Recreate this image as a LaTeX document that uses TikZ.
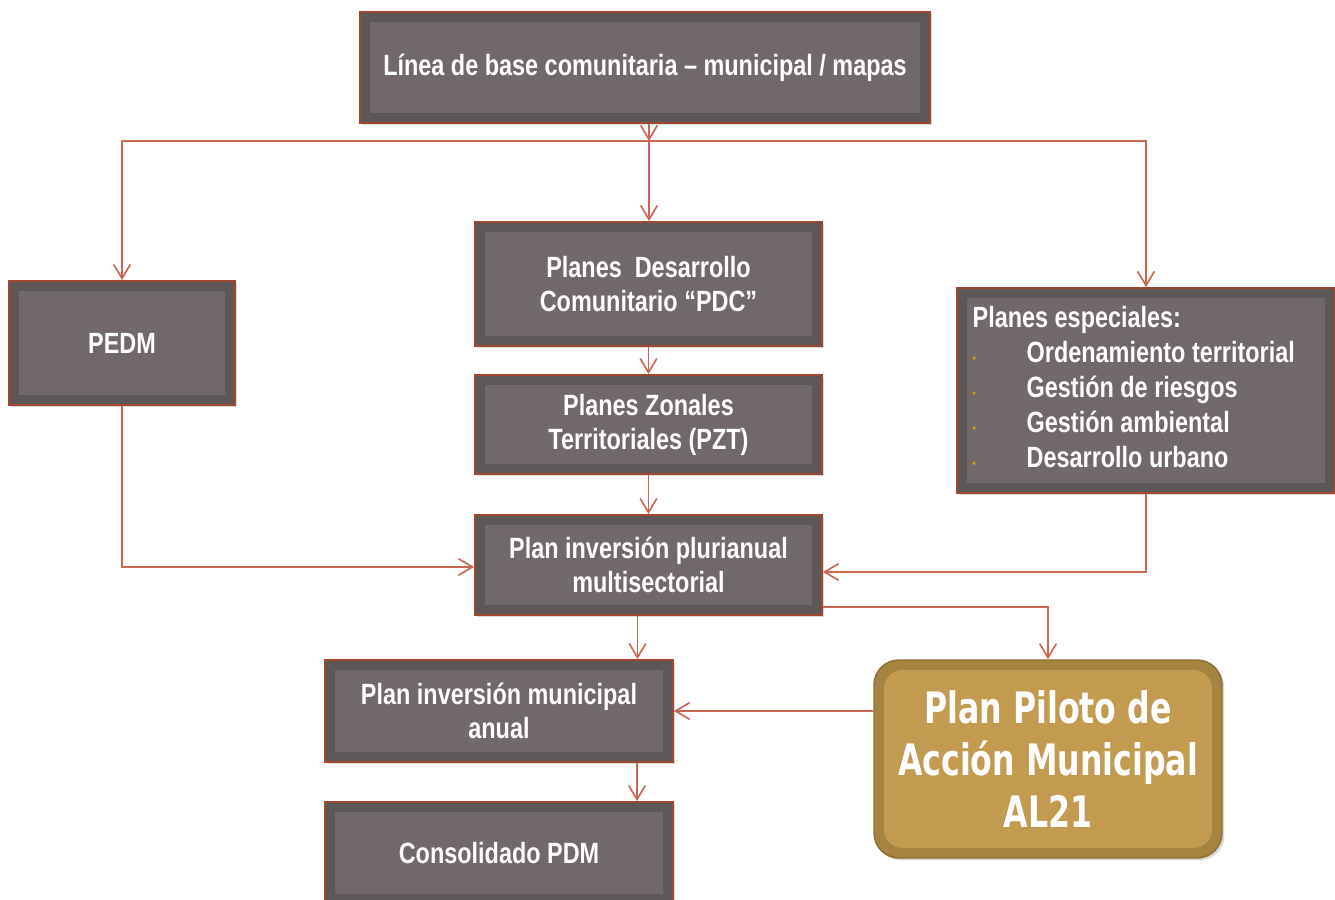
\documentclass[tikz,border=0pt]{standalone}
\usepackage{fontspec}
\usepackage{xcolor}
\usepackage{tikz}
\usetikzlibrary{positioning,arrows.meta,calc,shadows}
\newfontfamily\boxfont{Liberation Sans}[FakeStretch=0.8,Ligatures=TeX]
\newfontfamily\pilotfont{DejaVu Sans}[FakeStretch=0.73]

\definecolor{boxout}{HTML}{5E5757}
\definecolor{boxin}{HTML}{716969}
\definecolor{boxrim}{HTML}{A0472F}
\definecolor{linkred}{HTML}{CB6650}
\definecolor{goldout}{HTML}{A5843F}
\definecolor{goldin}{HTML}{C29B50}
\definecolor{goldrim}{HTML}{8F6E30}
\definecolor{dotgold}{HTML}{D4A017}

\newcommand{\espitem}[1]{\makebox[1.62cm][l]{\color{dotgold}\fontsize{10}{10}\selectfont\textbullet}#1}

\begin{document}
\begin{tikzpicture}[
    x=0.03cm, y=-0.03cm,
    box/.style={
        draw=boxrim,
        line width=1.6pt,
        fill=boxout,
        text=white,
        align=center,
        font=\boxfont\bfseries\fontsize{25}{29}\selectfont,
        drop shadow={shadow xshift=2pt,shadow yshift=-2pt,opacity=0.3},
        path picture={\fill[boxin]
            ([shift={(0.3cm,0.3cm)}]path picture bounding box.south west)
            rectangle
            ([shift={(-0.3cm,-0.3cm)}]path picture bounding box.north east);}
    },
    pilot/.style={
        draw=goldrim,
        line width=1.2pt,
        fill=goldout,
        rounded corners=0.75cm,
        text=white,
        align=center,
        font=\pilotfont\bfseries\fontsize{37}{44.5}\selectfont,
        drop shadow={shadow xshift=2pt,shadow yshift=-2pt,opacity=0.3},
        path picture={\fill[goldin,rounded corners=0.55cm]
            ([shift={(0.3cm,0.3cm)}]path picture bounding box.south west)
            rectangle
            ([shift={(-0.3cm,-0.3cm)}]path picture bounding box.north east);}
    },
    arr/.style={-{Straight Barb[length=0.42cm,width=0.5cm]}, draw=linkred, line width=1.4pt}
]
\useasboundingbox (0,0) rectangle (1335,900);

% top
\node[box, minimum width=17.1cm, minimum height=3.33cm] (base) at (645,67.5)
{Línea de base comunitaria – municipal / mapas};

% second row
\node[box, minimum width=6.78cm, minimum height=3.72cm] (pedm) at (122,343)
{PEDM};

\node[box, minimum width=10.41cm, minimum height=3.72cm] (pdc) at (648.5,284)
{Planes\ \ Desarrollo\\ Comunitario “PDC”};

\node[box, minimum width=11.34cm, minimum height=6.15cm,
      font=\boxfont\bfseries\fontsize{25}{30}\selectfont] (esp) at (1146,390.5)
{\begin{tabular}{@{}p{10.4cm}@{}}
Planes especiales:\\
\espitem{Ordenamiento territorial}\\
\espitem{Gestión de riesgos}\\
\espitem{Gestión ambiental}\\
\espitem{Desarrollo urbano}
\end{tabular}};

\node[box, minimum width=10.41cm, minimum height=2.97cm] (pzt) at (648.5,424.5)
{Planes Zonales\\ Territoriales (PZT)};

\node[box, minimum width=10.41cm, minimum height=3cm] (plur) at (648.5,565)
{Plan inversión plurianual\\ multisectorial};

% bottom rows
\node[box, minimum width=10.44cm, minimum height=3.06cm] (anual) at (499,711)
{Plan inversión municipal\\ anual};

\node[box, minimum width=10.44cm, minimum height=3.06cm] (cons) at (499,853)
{Consolidado PDM};

\node[pilot, minimum width=10.44cm, minimum height=5.94cm] (piloto) at (1048,759)
{Plan Piloto de\\ Acción Municipal\\ AL21};

% connectors
\coordinate (hub) at (649,141);
\draw[arr] (hub |- base.south) -- (hub);
\draw[arr] (hub) -- (hub |- pdc.north);
\draw[arr] (hub) -| (pedm.north);
\draw[arr] (hub) -| (esp.north);
\draw[arr] (pdc) -- (pzt);
\draw[arr] (pzt) -- (plur);
\draw[arr] (pedm.south) |- ($(plur.west)+(0,2)$);
\draw[arr] (esp.south) |- ($(plur.east)+(0,7)$);
\draw[arr] ($(plur.south)+(-11,0)$) coordinate (d1) -- (d1 |- anual.north);
\draw[arr] ($(plur.south east)+(0,-9)$) -| (piloto.north);
\draw[arr] (piloto.west |- anual.east) -- (anual.east);
\draw[arr] ($(anual.south)+(138,0)$) coordinate (d2) -- (d2 |- cons.north);

\end{tikzpicture}
\end{document}
